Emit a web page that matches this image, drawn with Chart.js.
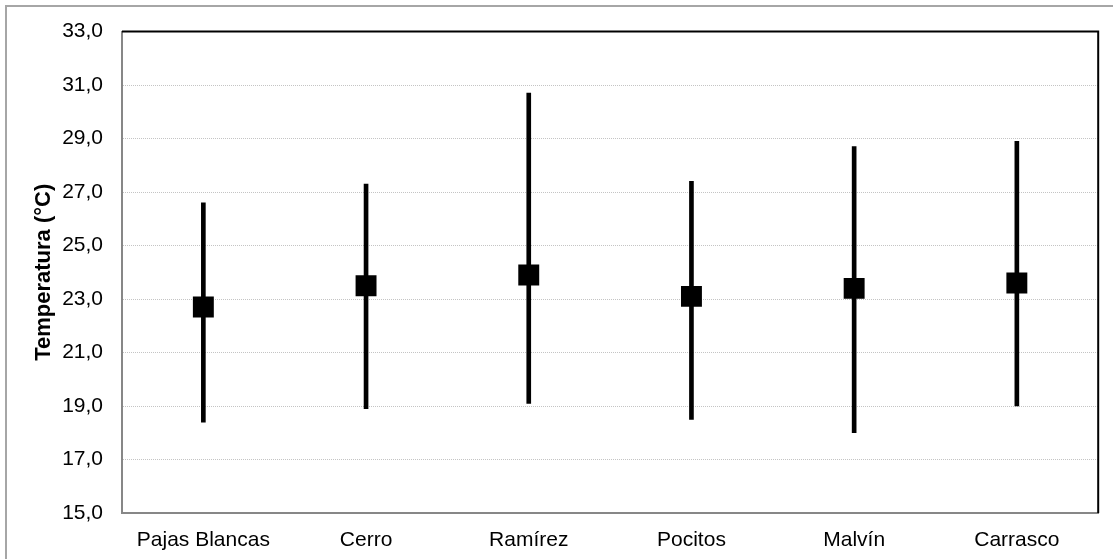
<!DOCTYPE html>
<html lang="es">
<head>
<meta charset="utf-8">
<title>Temperatura por estación</title>
<script src="https://cdn.jsdelivr.net/npm/chart.js@4/dist/chart.umd.min.js"></script>
<style>
  html, body { margin: 0; padding: 0; background: #fff; overflow: hidden; }
  #wrap { position: relative; width: 1113px; height: 559px; }
  #frame {
    position: absolute; left: 5px; top: 5px; width: 1200px; height: 700px;
    border: 2px solid #a6a6a6; box-sizing: border-box;
  }
  #chart { position: absolute; left: 0; top: 0; }
</style>
</head>
<body>
<div id="wrap">
  <div id="frame"></div>
  <canvas id="chart" width="1113" height="559"></canvas>
</div>
<script>
// Estaciones y temperaturas (°C): media, mínima y máxima
const estaciones = ['Pajas Blancas', 'Cerro', 'Ramírez', 'Pocitos', 'Malvín', 'Carrasco'];
const tempMedia  = [22.7, 23.5, 23.9, 23.1, 23.4, 23.6];
const tempMinima = [18.4, 18.9, 19.1, 18.5, 18.0, 19.0];
const tempMaxima = [26.6, 27.3, 30.7, 27.4, 28.7, 28.9];
const ticksY     = [15, 17, 19, 21, 23, 25, 27, 29, 31, 33];

const FONT = "'Liberation Sans', Arial, Helvetica, sans-serif";
const GRIS_EJE = '#878787';

const rangos = estaciones.map((_, i) => [tempMinima[i], tempMaxima[i]]);

// Marco del área de trazado: borde superior y derecho en negro
const marcoArea = {
  id: 'marcoArea',
  beforeDatasetsDraw(chart) {
    const { ctx, chartArea: a } = chart;
    ctx.save();
    ctx.strokeStyle = '#000';
    ctx.lineWidth = 2;
    ctx.beginPath();
    ctx.moveTo(a.left, a.top);
    ctx.lineTo(a.right, a.top);
    ctx.lineTo(a.right, a.bottom);
    ctx.stroke();
    ctx.restore();
  }
};

new Chart(document.getElementById('chart'), {
  type: 'bar',
  data: {
    labels: estaciones,
    datasets: [
      {
        type: 'line',
        label: 'Media',
        data: tempMedia,
        showLine: false,
        pointStyle: 'rect',
        pointRadius: 14.8,
        pointHoverRadius: 14.8,
        pointBackgroundColor: '#000',
        pointBorderWidth: 0,
        order: 0
      },
      {
        type: 'bar',
        label: 'Rango',
        data: rangos,
        backgroundColor: '#000',
        borderWidth: 0,
        borderSkipped: false,
        barThickness: 4,
        order: 1
      }
    ]
  },
  options: {
    responsive: false,
    animation: false,
    devicePixelRatio: 1,
    layout: { padding: { top: 28, right: 13, left: 0, bottom: 0 } },
    plugins: {
      legend: { display: false },
      tooltip: { enabled: false }
    },
    scales: {
      x: {
        offset: true,
        grid: { display: true, drawOnChartArea: false, drawTicks: false },
        border: { display: true, color: GRIS_EJE, width: 2 },
        ticks: { color: '#000', font: { family: FONT, size: 21 }, padding: 15 },
        afterFit(scale) { scale.height = 46; }
      },
      y: {
        min: 15,
        max: 33,
        afterBuildTicks(scale) { scale.ticks = ticksY.map(v => ({ value: v })); },
        grid: {
          drawTicks: false,
          lineWidth: 1,
          color: c => (c.tick && (c.tick.value === 15 || c.tick.value === 33)) ? 'rgba(0,0,0,0)' : '#c4c4c4'
        },
        border: { display: true, color: GRIS_EJE, width: 2, dash: [1, 1] },
        ticks: {
          color: '#000',
          font: { family: FONT, size: 21 },
          padding: 19,
          callback: v => v.toFixed(1).replace('.', ',')
        },
        title: {
          display: true,
          text: 'Temperatura (°C)',
          color: '#000',
          font: { family: FONT, size: 22, weight: 'bold' },
          padding: { top: 31, bottom: 0 }
        },
        afterFit(scale) { scale.width = 122; }
      }
    }
  },
  plugins: [marcoArea]
});
</script>
</body>
</html>
